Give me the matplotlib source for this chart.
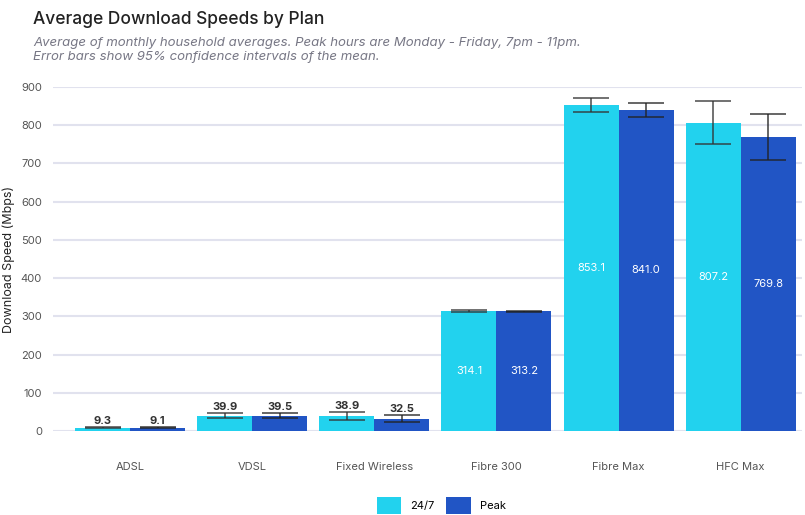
import numpy as np
import matplotlib.pyplot as plt

plt.rcParams['font.family'] = ['Inter', 'DejaVu Sans']

plans = ["ADSL", "VDSL", "Fixed Wireless", "Fibre 300", "Fibre Max", "HFC Max"]
speed_247 = [9.3, 39.9, 38.9, 314.1, 853.1, 807.2]
speed_peak = [9.1, 39.5, 32.5, 313.2, 841.0, 769.8]
# 95% CI bounds
low_247 = [7.5, 34, 29, 312.5, 835, 751]
high_247 = [11, 47, 50, 316, 871, 863]
low_peak = [7.5, 33, 24, 311.5, 822, 709]
high_peak = [10.5, 47, 42, 315, 858, 829]

c247 = '#22D2EE'
cpeak = '#2155C5'

fig = plt.figure(figsize=(8.05, 5.15), dpi=100)
ax = fig.add_axes([0.066, 0.163, 0.93, 0.668])

x = np.arange(len(plans))
w = 0.45
err247 = [np.array(speed_247) - low_247, np.array(high_247) - speed_247]
errpeak = [np.array(speed_peak) - low_peak, np.array(high_peak) - speed_peak]
ax.bar(x - w / 2, speed_247, w, color=c247, label='24/7', zorder=2)
ax.bar(x + w / 2, speed_peak, w, color=cpeak, label='Peak', zorder=2)
ax.errorbar(x - w / 2, speed_247, yerr=err247, fmt='none', ecolor='#333333',
            alpha=0.75, elinewidth=1.3, capsize=13, capthick=1.3, zorder=3)
ax.errorbar(x + w / 2, speed_peak, yerr=errpeak, fmt='none', ecolor='#222222',
            alpha=0.75, elinewidth=1.3, capsize=13, capthick=1.3, zorder=3)

for xs, vals, highs in [(x - w / 2, speed_247, high_247), (x + w / 2, speed_peak, high_peak)]:
    for xi, v, h in zip(xs, vals, highs):
        if v > 200:
            ax.text(xi, v / 2, f"{v:.1f}", color='white', ha='center', va='center', fontsize=8)
        else:
            ax.text(xi, h + 3, f"{v:.1f}", color='#333333', ha='center', va='bottom',
                    fontsize=8, fontweight='bold')

ax.set_xlim(-0.63, 5.5)
ax.set_ylim(0, 900)
ax.set_yticks(range(0, 901, 100))
ax.set_xticks(x)
ax.set_xticklabels(plans)
ax.tick_params(axis='x', length=0, pad=22, labelsize=8, labelcolor='#555555')
ax.tick_params(axis='y', length=0, pad=8, labelsize=8, labelcolor='#555555')
ax.grid(axis='y', color='#E1E2EE', linewidth=1.5, zorder=0)
for s in ax.spines.values():
    s.set_visible(False)
ax.set_ylabel('Download Speed (Mbps)', fontsize=9, color='#222222', labelpad=4)

fig.text(0.041, 0.962, 'Average Download Speeds by Plan', fontsize=12.5, color='#222222',
         fontweight='medium', va='center')
fig.text(0.041, 0.917, 'Average of monthly household averages. Peak hours are Monday - Friday, 7pm - 11pm.',
         fontsize=9.5, color='#777785', style='italic', va='center')
fig.text(0.041, 0.89, 'Error bars show 95% confidence intervals of the mean.',
         fontsize=9.5, color='#777785', style='italic', va='center')

fig.legend(loc='center', bbox_to_anchor=(0.548, 0.018), ncol=2, frameon=False,
           handlelength=2.2, handleheight=2.0, fontsize=8, columnspacing=1.1, handletextpad=0.8)

fig.savefig('out.png', dpi=100)
